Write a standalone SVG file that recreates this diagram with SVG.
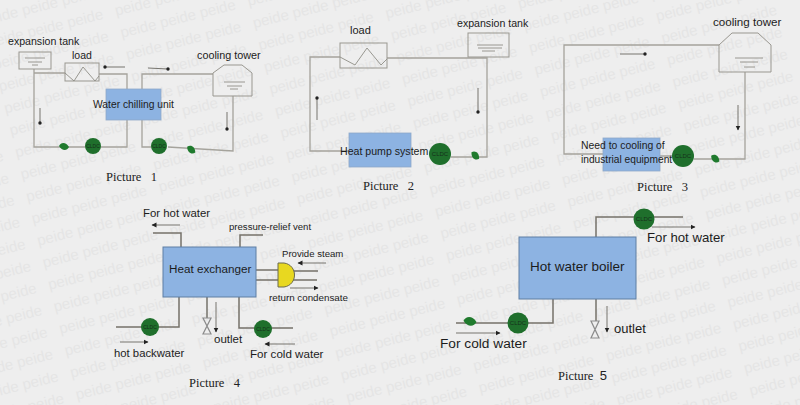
<svg xmlns="http://www.w3.org/2000/svg" width="800" height="405" viewBox="0 0 800 405">
  <style>
    text { font-family: "Liberation Sans", Arial, sans-serif; fill: #1c1c1c; white-space: pre; }
    .wm { font-size: 15px; fill: #e5e5e5; }
    .cap { font-family: "Liberation Serif", "Times New Roman", serif; font-size: 12.5px; fill: #222; }
    .thin { fill: none; stroke: #a5a39c; stroke-width: 1.3; }
    .thick { fill: none; stroke: #75726a; stroke-width: 1.5; }
    .equip { fill: none; stroke: #999790; stroke-width: 1; }
    .inner { fill: none; stroke: #8f8d86; stroke-width: 0.9; }
    .unit { fill: #8db3e2; stroke: #8fa9c9; stroke-width: 0.8; }
    .unit2 { fill: #8db3e2; stroke: #5f7fa3; stroke-width: 1; }
    .flow { fill: none; stroke: #77756f; stroke-width: 1; }
    .pump { fill: #1f6f2c; }
    .tag { font-size: 6px; fill: #15301a; text-anchor: middle; }
    .leaf { fill: #1f7a2d; }
    .valve { fill: none; stroke: #8b8b8b; stroke-width: 1.2; }
  </style>
  <defs>
    <marker id="dot" markerUnits="userSpaceOnUse" markerWidth="5" markerHeight="5" refX="2.5" refY="2.5">
      <circle cx="2.5" cy="2.5" r="1.7" fill="#222"/>
    </marker>
    <marker id="tip" markerUnits="userSpaceOnUse" markerWidth="6" markerHeight="6" refX="4.5" refY="3" orient="auto">
      <path d="M0 0.5L5 3L0 5.5Z" fill="#222"/>
    </marker>
    <text id="wmrow" class="wm">peide peide peide   peide peide peide   peide peide peide   peide peide peide   peide peide peide   peide peide peide   peide peide peide</text>
    <g id="leafP"><path class="leaf" d="M-5 -1C-3 -5 2 -5 5 0C3 4 -2 4 -5 -1Z"/></g>
  </defs>

  <rect width="800" height="405" fill="#eeeeee"/>

  <!-- background lettering, one row per line -->
  <g id="watermark" transform="rotate(-14)">
    <use href="#wmrow" x="-153" y="-2"/>
    <use href="#wmrow" x="-153" y="20.7"/>
    <use href="#wmrow" x="-153" y="43.4"/>
    <use href="#wmrow" x="-153" y="66.1"/>
    <use href="#wmrow" x="-153" y="88.8"/>
    <use href="#wmrow" x="-153" y="111.5"/>
    <use href="#wmrow" x="-153" y="134.2"/>
    <use href="#wmrow" x="-153" y="156.9"/>
    <use href="#wmrow" x="-153" y="179.6"/>
    <use href="#wmrow" x="-153" y="202.3"/>
    <use href="#wmrow" x="-153" y="225"/>
    <use href="#wmrow" x="-153" y="247.7"/>
    <use href="#wmrow" x="-153" y="270.4"/>
    <use href="#wmrow" x="-153" y="293.1"/>
    <use href="#wmrow" x="-153" y="315.8"/>
    <use href="#wmrow" x="-153" y="338.5"/>
    <use href="#wmrow" x="-153" y="361.2"/>
    <use href="#wmrow" x="-153" y="383.9"/>
    <use href="#wmrow" x="-153" y="406.6"/>
    <use href="#wmrow" x="-153" y="429.3"/>
    <use href="#wmrow" x="-153" y="452"/>
    <use href="#wmrow" x="-153" y="474.7"/>
    <use href="#wmrow" x="-153" y="497.4"/>
    <use href="#wmrow" x="-153" y="520.1"/>
    <use href="#wmrow" x="-153" y="542.8"/>
    <use href="#wmrow" x="-153" y="565.5"/>
    <use href="#wmrow" x="-153" y="588.2"/>
  </g>

  <!-- pipework and flow arrows -->
  <g id="connectors">
    <path class="thin" d="M34 69V147H127V120M127 89V74H99M65 73H34"/>
    <path class="thin" d="M142 120V147H160M168 147L233 151V96M213 74H142V89"/>
    <path class="flow" marker-end="url(#dot)" d="M125 67H105"/>
    <path class="flow" marker-end="url(#dot)" d="M148 68L168 69"/>
    <path class="flow" marker-end="url(#dot)" d="M40 108V123"/>
    <path class="flow" marker-end="url(#dot)" d="M227 112V129"/>

    <path class="thin" d="M340 57H310V151H349M387 58H487V157H451"/>
    <path class="flow" marker-end="url(#dot)" d="M317 120V98"/>
    <path class="flow" marker-end="url(#dot)" d="M478 88V112"/>

    <path class="thin" d="M719 45H564V154H603M660 156H683M694 159H745V72"/>
    <path class="flow" marker-end="url(#dot)" d="M620 54H645"/>
    <path class="flow" marker-end="url(#tip)" d="M738 105V130"/>

    <path class="thick" d="M181 247V233H153"/>
    <path class="thick" d="M240 247V235H263"/>
    <path class="thick" d="M256 270H278M256 280H278"/>
    <path class="thick" d="M292 271H318M292 280H317"/>
    <path class="thick" d="M179 297V327H116"/>
    <path class="thick" d="M207 297V318"/>
    <path class="thick" d="M239 297V328H293"/>
    <path class="flow" marker-end="url(#tip)" d="M180 225H152"/>
    <path class="flow" marker-end="url(#tip)" d="M326 263H298"/>
    <path class="flow" marker-end="url(#tip)" d="M290 288H318"/>
    <path class="flow" marker-end="url(#tip)" d="M120 342H148"/>
    <path class="flow" marker-end="url(#tip)" d="M216 302V332"/>
    <path class="flow" marker-end="url(#tip)" d="M295 344H265"/>

    <path class="thick" d="M596 237V217H683"/>
    <path class="thick" d="M553 299V323H456"/>
    <path class="thick" d="M596 299V321"/>
    <path class="flow" marker-end="url(#tip)" d="M652 227H695"/>
    <path class="flow" marker-end="url(#tip)" d="M456 333H500"/>
    <path class="flow" marker-end="url(#tip)" d="M607 306V332"/>
  </g>

  <g id="p1-tank">
    <rect class="equip" x="19" y="52" width="32" height="17"/>
    <path class="inner" d="M25 58H45M28 62H42M32 65H38"/>
    <text x="8" y="45" font-size="10.6">expansion tank</text>
  </g>
  <g id="p1-load">
    <rect class="equip" x="65" y="63" width="34" height="18"/>
    <path class="inner" d="M65 73L74 81L83 67L95 81L99 76"/>
    <text x="72" y="59" font-size="10.5">load</text>
  </g>
  <g id="p1-chiller">
    <rect class="unit" x="106" y="89" width="55" height="31"/>
    <text x="93" y="108" font-size="10.3">Water chilling unit</text>
  </g>
  <g id="p1-tower">
    <path class="equip" d="M213 73L224 65H242L252 73V96H213Z"/>
    <path class="inner" d="M224 82H245M227 86H242M230 89H238"/>
    <text x="197" y="59" font-size="10.8">cooling tower</text>
  </g>
  <g id="p1-pump-a"><circle class="pump" cx="93" cy="146" r="8"/><text class="tag" x="93" y="148" style="font-size:5px">CLDC</text></g>
  <g id="p1-pump-b"><circle class="pump" cx="159" cy="146" r="8"/><text class="tag" x="159" y="148" style="font-size:5px">CLDC</text></g>
  <g id="p1-valve-a"><use href="#leafP" x="64" y="147"/></g>
  <g id="p1-valve-b"><use href="#leafP" transform="translate(191 150) rotate(30)"/></g>
  <text id="p1-caption" class="cap" x="106" y="181">Picture   1</text>

  <g id="p2-load">
    <rect class="equip" x="340" y="43" width="47" height="25"/>
    <path class="inner" d="M340 57L355 65L367 48L381 65L387 59"/>
    <text x="350" y="34" font-size="11">load</text>
  </g>
  <g id="p2-tank">
    <rect class="equip" x="468" y="33" width="41" height="24"/>
    <path class="inner" d="M477 45H503M478 48H502M482 51H495"/>
    <text x="457" y="27" font-size="10.6">expansion tank</text>
  </g>
  <g id="p2-heatpump">
    <rect class="unit" x="349" y="133" width="62" height="34"/>
    <text x="340" y="155" font-size="10.6">Heat pump system</text>
  </g>
  <g id="p2-pump"><circle class="pump" cx="440" cy="154" r="11"/><text class="tag" x="440" y="156">CLDC</text></g>
  <g id="p2-valve"><use href="#leafP" transform="translate(475 156) rotate(35)"/></g>
  <text id="p2-caption" class="cap" x="363" y="190">Picture   2</text>

  <g id="p3-tower">
    <path class="equip" d="M719 45L732 33H758L771 45V72H719Z"/>
    <path class="inner" d="M735 58H763M740 62H758M744 67H755"/>
    <text x="713" y="26" font-size="11.6">cooling tower</text>
  </g>
  <g id="p3-equipment">
    <rect class="unit" x="603" y="138" width="57" height="33"/>
    <text x="581" y="149" font-size="10.4">Need to cooling of</text>
    <text x="581" y="163" font-size="10.2">industrial equipment</text>
  </g>
  <g id="p3-pump"><circle class="pump" cx="683" cy="156" r="11"/><text class="tag" x="683" y="158">CLDC</text></g>
  <g id="p3-valve"><use href="#leafP" transform="translate(715 159) rotate(30)"/></g>
  <text id="p3-caption" class="cap" x="637" y="191">Picture   3</text>

  <g id="p4-exchanger">
    <rect class="unit2" x="163" y="247" width="93" height="50"/>
    <text x="169" y="273" font-size="11.7">Heat exchanger</text>
  </g>
  <g id="p4-trap">
    <path d="M278 263H284C298 265 298 285 284 287H278Z" fill="#e8d820" stroke="#6b6a50" stroke-width="1"/>
  </g>
  <g id="p4-pump-a"><circle class="pump" cx="150" cy="327" r="9"/><text class="tag" x="150" y="329" style="font-size:5px">CLDC</text></g>
  <g id="p4-pump-b"><circle class="pump" cx="263" cy="329" r="9"/><text class="tag" x="263" y="331" style="font-size:5px">CLDC</text></g>
  <g id="p4-valve"><path class="valve" d="M203 318H211L203 334H211Z"/></g>
  <g id="p4-labels">
    <text x="143" y="217" font-size="11.4">For hot water</text>
    <text x="229" y="230" font-size="9.6">pressure-relief vent</text>
    <text x="282" y="257" font-size="9.6">Provide steam</text>
    <text x="269" y="301" font-size="9.8">return condensate</text>
    <text x="114" y="357" font-size="11.3">hot backwater</text>
    <text x="214" y="343" font-size="11.5">outlet</text>
    <text x="250" y="358" font-size="11.6">For cold water</text>
  </g>
  <text id="p4-caption" class="cap" x="189" y="387">Picture   4</text>

  <g id="p5-boiler">
    <rect class="unit2" x="519" y="237" width="117" height="62"/>
    <text x="530" y="271" font-size="13.5">Hot water boiler</text>
  </g>
  <g id="p5-pump-a"><circle class="pump" cx="644" cy="219" r="10.5"/><text class="tag" x="644" y="221">CLDC</text></g>
  <g id="p5-pump-b"><circle class="pump" cx="518" cy="323" r="10.5"/><text class="tag" x="518" y="325">CLDC</text></g>
  <g id="p5-leaf"><use href="#leafP" transform="translate(470 322) scale(1.3)"/></g>
  <g id="p5-valve"><path class="valve" d="M591 321H599L591 338H599Z"/></g>
  <g id="p5-labels">
    <text x="647" y="242" font-size="13.2">For hot water</text>
    <text x="440" y="348" font-size="13.7">For cold water</text>
    <text x="614" y="333" font-size="13">outlet</text>
  </g>
  <text id="p5-caption" class="cap" x="558" y="380">Picture  <tspan font-family="Liberation Sans" font-size="13">5</tspan></text>
</svg>
